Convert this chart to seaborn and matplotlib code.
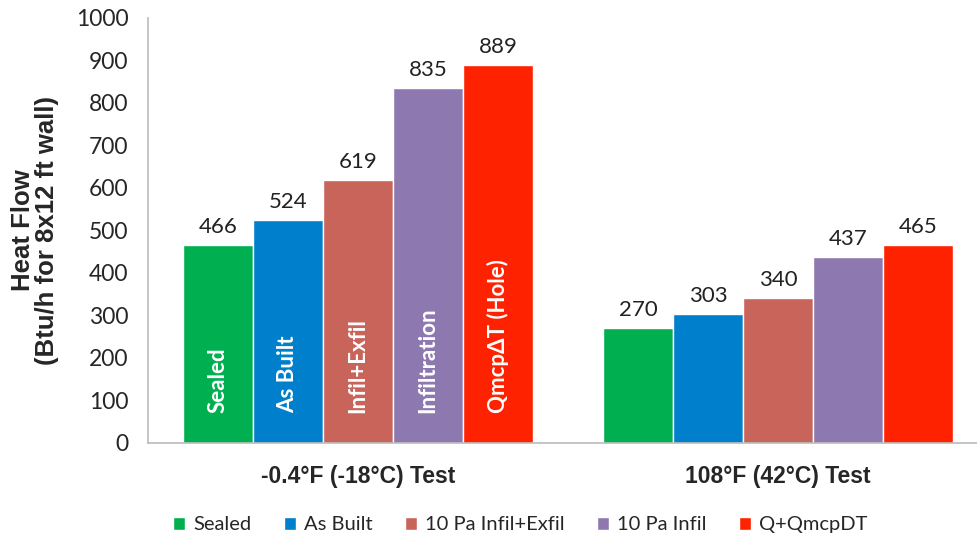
import pandas as pd
import matplotlib.pyplot as plt
import seaborn as sns

tests = ["-0.4°F (-18°C) Test", "108°F (42°C) Test"]
series = ["Sealed", "As Built", "10 Pa Infil+Exfil", "10 Pa Infil", "Q+QmcpDT"]
bar_text = ["Sealed", "As Built", "Infil+Exfil", "Infiltration", "Qmcp\u0394T (Hole)"]
cold = [466, 524, 619, 835, 889]
hot = [270, 303, 340, 437, 465]
colors = ["#00B050", "#0080CC", "#C8645A", "#8E78B0", "#FF2200"]

df = pd.DataFrame({
    "Test": [tests[0]] * 5 + [tests[1]] * 5,
    "Series": series * 2,
    "Heat": cold + hot,
})

sns.set_style("white")
plt.rcParams["font.family"] = ["Lato", "DejaVu Sans"]

fig = plt.figure(figsize=(9.77, 5.38), dpi=100)
ax = fig.add_axes([0.1515, 0.1766, 0.8485, 0.79])
sns.barplot(data=df, x="Test", y="Heat", hue="Series", palette=colors,
            width=0.833, saturation=1, ax=ax, legend=True)

for c in ax.containers:
    ax.bar_label(c, fmt="%d", padding=6, fontsize=16, color="#222222")

# labels written inside the cold-test bars
for i, c in enumerate(ax.containers):
    bar = c[0]
    ax.text(bar.get_x() + bar.get_width() / 2, 70, bar_text[i], rotation=90,
            ha="center", va="bottom", color="white", fontsize=16, fontweight="bold")

ax.set_ylim(0, 1000)
ax.set_xlim(-0.5, 1.474)
ax.set_yticks(range(0, 1001, 100))
ax.tick_params(axis="y", labelsize=16.5, length=0, pad=14)
ax.tick_params(axis="x", length=0, pad=16)
for lbl in ax.get_xticklabels():
    lbl.set_fontfamily("Liberation Sans")
    lbl.set_fontweight("bold")
    lbl.set_fontsize(16.5)
ax.set_xlabel("")
ax.set_ylabel("Heat Flow\n(Btu/h for 8x12 ft wall)", fontsize=18.5,
              fontweight="bold", family="Liberation Sans", labelpad=12,
              linespacing=1.0)

for s in ["top", "right"]:
    ax.spines[s].set_visible(False)
for s in ["left", "bottom"]:
    ax.spines[s].set_color("#BBBBBB")
    ax.spines[s].set_linewidth(1.2)

ax.legend(loc="upper center", bbox_to_anchor=(0.449, -0.13), ncol=5, frameon=False,
          fontsize=14.5, handlelength=0.6, handleheight=0.6, handletextpad=0.4,
          columnspacing=1.6)

fig.savefig("out.png", dpi=100)
